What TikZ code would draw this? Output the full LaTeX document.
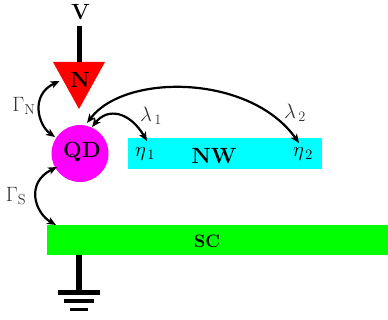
\documentclass[tikz,border=0pt]{standalone}
\usetikzlibrary{arrows.meta}
\definecolor{labgray}{gray}{0.2}
\definecolor{cyanb}{RGB}{0,255,255}
\definecolor{magb}{RGB}{255,0,255}
\definecolor{greenb}{RGB}{0,255,0}
\definecolor{redb}{RGB}{255,0,0}
\tikzset{
  x=1pt,y=-1pt,
  wire/.style={line width=5.5pt,black},
  box/.style={draw=none,inner sep=0pt,anchor=north west},
  dbl/.style={line width=2.2pt,black,{Stealth[length=9pt,width=7.5pt,inset=2.5pt]}-{Stealth[length=9pt,width=7.5pt,inset=2.5pt]}},
  bold/.style={font=\fontsize{22}{22}\selectfont\bfseries,inner sep=0pt},
  lab/.style={font=\fontsize{20}{20}\selectfont,text=labgray,inner sep=0pt},
  greek/.style={font=\fontsize{21}{21}\selectfont,text=labgray,inner sep=0pt},
}
\begin{document}
\begin{tikzpicture}
\useasboundingbox (0,0) rectangle (388,320);
% shapes
\node[box,fill=cyanb,minimum width=194pt,minimum height=31pt] (nw) at (128,138) {};
\node[box,fill=greenb,minimum width=341pt,minimum height=30pt] (sc) at (47,225) {};
\coordinate (tl) at (53,62);
\coordinate (tr) at (105,62);
\coordinate (tb) at (79,109);
\fill[redb] (tl) -- (tr) -- (tb) -- cycle;
\node[circle,fill=magb,minimum size=57pt,inner sep=0pt] (qd) at (80,153.5) {};
% leads
\node[bold] (v) at (80.5,12) {V};
\coordinate (vt) at (79.5,26);
\coordinate (vb) at (79.5,62);
\draw[wire] (vt) -- (vb);
\coordinate (gt) at (79,255);
\coordinate (gb) at (79,292);
\draw[wire] (gt) -- (gb);
\coordinate (g1a) at (58,292.5); \coordinate (g1b) at (100,292.5);
\coordinate (g2a) at (64,301);   \coordinate (g2b) at (94,301);
\coordinate (g3a) at (70,309.5); \coordinate (g3b) at (88,309.5);
\draw[line width=5pt] (g1a) -- (g1b);
\draw[line width=4pt] (g2a) -- (g2b);
\draw[line width=3pt] (g3a) -- (g3b);
% text
\node[bold] (n) at (80,80) {N};
\node[bold] (qdl) at (82,152) {QD};
\node[bold] (nwl) at (214,156) {NW};
\node[font=\fontsize{18}{18}\selectfont\bfseries,inner sep=0pt] (scl) at (207,241) {SC};
\node[lab] (gn) at (24,106) {$\Gamma_{\mathrm{N}}$};
\node[lab] (gs) at (16,196) {$\Gamma_{\mathrm{S}}$};
\node[greek] (l1) at (151,116) {$\lambda_{\,1}$};
\node[greek] (l2) at (295,113) {$\lambda_{\,2}$};
\node[greek,text=black] (e1) at (145,154) {$\eta_{\,1}$};
\node[greek,text=black] (e2) at (303,154) {$\eta_{\,2}$};
% connectors
\coordinate (n1) at (59.5,81);
\coordinate (n2) at (55,137);
\coordinate (s1) at (57,167);
\coordinate (s2) at (56,225);
\coordinate (a1) at (92,127);
\coordinate (a2) at (147,141);
\coordinate (b1) at (87,123);
\coordinate (b2) at (299,143);
\draw[dbl] (n1) .. controls (30,95) and (38,125) .. (n2);
\draw[dbl] (s1) .. controls (25,183) and (35,213) .. (s2);
\draw[dbl] (a1) .. controls (108,107) and (130,112) .. (a2);
\draw[dbl] (b1) .. controls (125,73) and (250,74) .. (b2);
\end{tikzpicture}
\end{document}
